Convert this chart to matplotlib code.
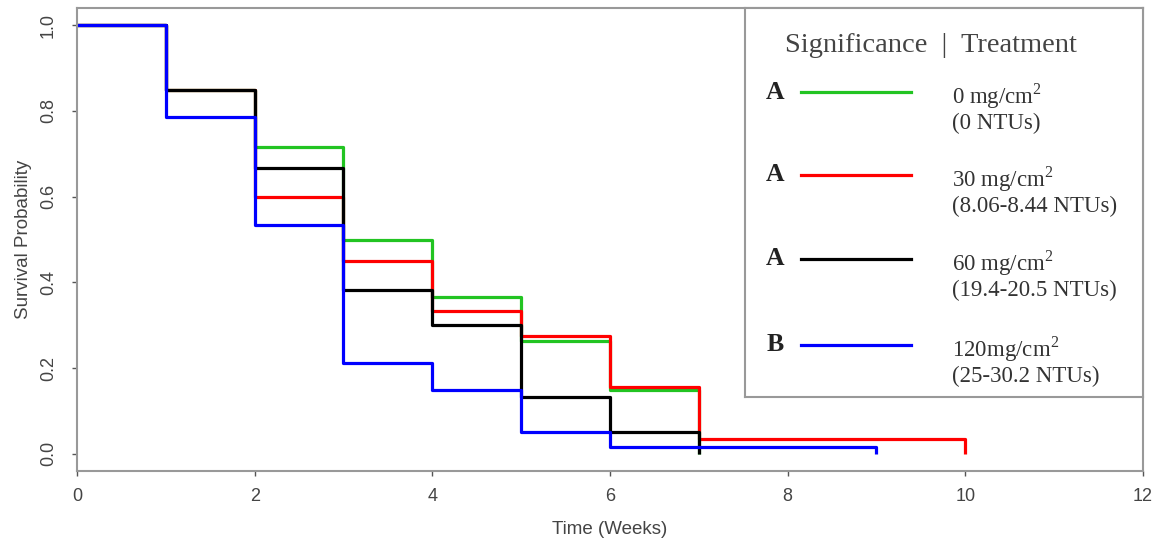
import matplotlib.pyplot as plt

# Semanas e probabilidades de sobrevivência (Kaplan-Meier).
semanas_verde = [0, 1, 2, 3, 4, 5, 6, 7]
surv_verde = [1.0, 0.85, 0.717, 0.50, 0.367, 0.264, 0.15, 0.0]

semanas_vermelho = [0, 1, 2, 3, 4, 5, 6, 7, 10]
surv_vermelho = [1.0, 0.85, 0.60, 0.45, 0.333, 0.276, 0.157, 0.035, 0.0]

semanas_preto = [0, 1, 2, 3, 4, 5, 6, 7]
surv_preto = [1.0, 0.85, 0.667, 0.383, 0.30, 0.133, 0.05, 0.0]

semanas_azul = [0, 1, 2, 3, 4, 5, 6, 9]
surv_azul = [1.0, 0.785, 0.533, 0.213, 0.15, 0.05, 0.017, 0.0]

significancia = ['A', 'A', 'A', 'B']
tratamentos = ['0 mg/cm$^{2}$\n(0 NTUs)',
               '30 mg/cm$^{2}$\n(8.06-8.44 NTUs)',
               '60 mg/cm$^{2}$\n(19.4-20.5 NTUs)',
               '120mg/cm$^{2}$\n(25-30.2 NTUs)']
cores = ['#22c422', '#ff0000', '#000000', '#0000ff']

cinza = '#555555'
plt.rcParams['mathtext.fontset'] = 'custom'
plt.rcParams['mathtext.rm'] = 'Liberation Serif'

fig = plt.figure(figsize=(11.61, 5.42), dpi=100)
ax = fig.add_axes([0.0663, 0.131, 0.9182, 0.854])

series = [(semanas_verde, surv_verde), (semanas_vermelho, surv_vermelho),
          (semanas_preto, surv_preto), (semanas_azul, surv_azul)]
for (t, s), c in zip(series, cores):
    # o último ponto é a queda até zero no fim do seguimento
    ax.step(t[:-1] + [t[-1], t[-1]], s[:-1] + [s[-2], s[-1]],
            where='post', color=c, lw=2.3, solid_capstyle='butt')

ax.set_xlim(0, 12)
ax.set_ylim(-0.04, 1.04)
ax.set_xticks(range(0, 13, 2))
ax.set_yticks([0.0, 0.2, 0.4, 0.6, 0.8, 1.0])
ax.set_yticklabels(['0.0', '0.2', '0.4', '0.6', '0.8', '1.0'],
                   rotation=90, va='center')
for s in ax.spines.values():
    s.set_color('#999999')
    s.set_linewidth(1.5)
ax.tick_params(colors=cinza, labelsize=13, length=3.5, width=1, labelcolor='#444444')
ax.tick_params(axis='x', pad=8.5)
ax.tick_params(axis='y', pad=11)
ax.set_xlabel('Time (Weeks)', fontsize=13.5, color='#444444', labelpad=12,
              family='Liberation Sans')
ax.set_ylabel('Survival Probability', fontsize=13.5, color='#444444', labelpad=6,
              family='Liberation Sans')
for lab in ax.get_xticklabels() + ax.get_yticklabels():
    lab.set_family('Liberation Sans')

# Legenda desenhada à mão, como no original.
leg = ax.inset_axes([0.6266, 0.16, 0.3734, 0.84])
leg.set_xlim(0, 1)
leg.set_ylim(0, 1)
leg.set_xticks([])
leg.set_yticks([])
leg.patch.set_facecolor('white')
for s in leg.spines.values():
    s.set_color('#999999')
    s.set_linewidth(1.5)

serif = 'Liberation Serif'
leg.text(0.466, 0.905, 'Significance  |  Treatment', ha='center', va='center',
         fontsize=20.5, family=serif, color='#444444')
y_linhas = [0.784, 0.571, 0.355, 0.134]
for y, sig, trat, c in zip(y_linhas, significancia, tratamentos, cores):
    leg.text(0.076, y, sig, ha='center', va='center', fontsize=18.5,
             fontweight='bold', family=serif, color='#222222')
    leg.plot([0.142, 0.416], [y, y], color=c, lw=2.3)
    leg.text(0.52, y - 0.041, trat, ha='left', va='center', fontsize=16.5,
             family=serif, color='#333333', linespacing=1.12)

fig.savefig('out.png', dpi=100)
